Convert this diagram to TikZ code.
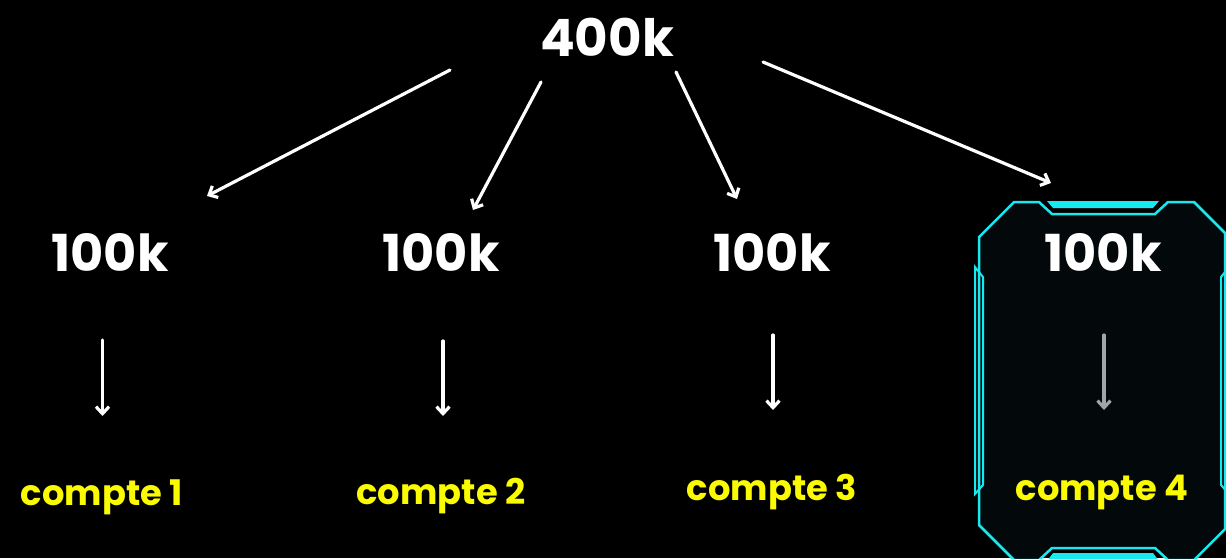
\documentclass[tikz,border=0pt]{standalone}
\usepackage{fontspec}
\setmainfont{Poppins}
\usetikzlibrary{arrows.meta}
\definecolor{neon}{RGB}{24,232,240}
\definecolor{panel}{RGB}{3,8,11}
\definecolor{yel}{RGB}{250,250,0}
\definecolor{grayarr}{RGB}{160,165,168}
\tikzset{
  big/.style={text=white,font=\bfseries\fontsize{51}{56}\selectfont,inner sep=0pt},
  top/.style={text=white,font=\bfseries\fontsize{51.5}{56}\selectfont,inner sep=0pt},
  acct/.style={text=yel,font=\bfseries\fontsize{35.3}{40}\selectfont,inner sep=0pt},
  arr/.style={draw=white,line width=3.2pt,line cap=round,-{Straight Barb[length=7pt,width=13pt,line width=3.2pt]}},
  frame/.style={draw=neon,line width=2.5pt,line join=miter},
}
\begin{document}
\begin{tikzpicture}[x=1pt,y=-1pt]
\fill[black] (0,0) rectangle (1226,558);
\useasboundingbox (0,0) rectangle (1226,558);
\begin{scope}
\clip (0,0) rectangle (1226,558);
% panel
\path[frame,fill=panel] (1014,202) -- (1039,202) -- (1052,214) -- (1155,214) -- (1168,202) -- (1194,202) -- (1225,233) -- (1225,529) -- (1194,560) -- (1168,560) -- (1155,548) -- (1052,548) -- (1039,560) -- (1014,560) -- (979,525) -- (979,237) -- cycle;
\fill[neon] (1047,201) -- (1159,201) -- (1153,208) -- (1053,208) -- cycle;
\fill[neon] (1047,561) -- (1159,561) -- (1153,553) -- (1053,553) -- cycle;
\draw[draw=neon,line width=2pt] (975,267) -- (983,277) -- (983,485) -- (975,494) -- cycle;
\draw[draw=neon,line width=2pt] (1229,267) -- (1221,277) -- (1221,485) -- (1229,494) -- cycle;
\end{scope}
% texts
\node[top] (n400) at (607,37) {400k};
\node[big] (h1) at (110,252) {100k};
\node[big] (h2) at (441,252) {100k};
\node[big] (h3) at (772,252) {100k};
\node[big] (h4) at (1103,252) {100k};
\node[acct] (c1) at (102,497) {compte 1};
\node[acct] (c2) at (441,496) {compte 2};
\node[acct] (c3) at (772,492) {compte 3};
\node[acct] (c4) at (1102,492) {compte 4};
% connector ends
\coordinate (s1) at (450,70);  \coordinate (e1) at (207,196);
\coordinate (s2) at (541,82);  \coordinate (e2) at (473,210);
\coordinate (s3) at (676,72);  \coordinate (e3) at (737,199);
\coordinate (s4) at (763,62);  \coordinate (e4) at (1051,183);
\coordinate (v1s) at (102.5,340); \coordinate (v1e) at (102.5,416);
\coordinate (v2s) at (443,341); \coordinate (v2e) at (443,416);
\coordinate (v3s) at (773,335); \coordinate (v3e) at (773,410);
\coordinate (v4s) at (1104,335); \coordinate (v4e) at (1104,410);
\draw[arr] (s1) -- (e1);
\draw[arr] (s2) -- (e2);
\draw[arr] (s3) -- (e3);
\draw[arr] (s4) -- (e4);
\draw[arr] (v1s) -- (v1e);
\draw[arr] (v2s) -- (v2e);
\draw[arr] (v3s) -- (v3e);
\draw[arr,draw=grayarr] (v4s) -- (v4e);
\end{tikzpicture}
\end{document}
